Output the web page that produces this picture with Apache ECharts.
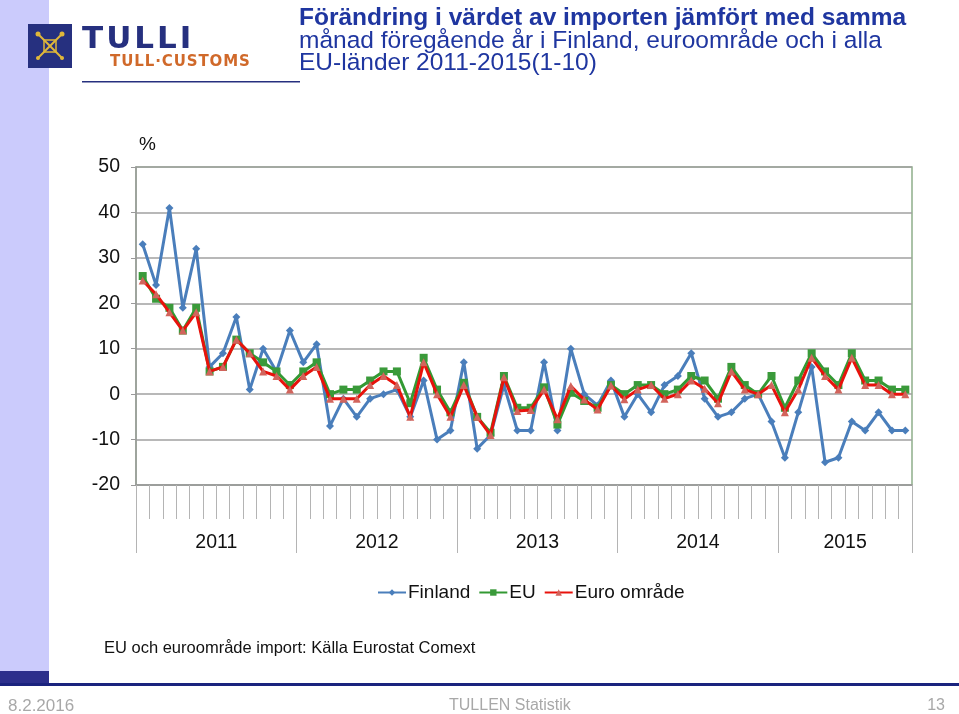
<!DOCTYPE html>
<html><head><meta charset="utf-8">
<script src="https://cdn.jsdelivr.net/npm/echarts@6/dist/echarts.min.js"></script>
<style>html,body{margin:0;padding:0;background:#fff;}#c{width:959px;height:714px;}</style>
</head><body><div id="c"></div>
<script>
// ---- data ----
const years = ['2011', '2012', '2013', '2014', '2015'];
const monthsPerYear = [12, 12, 12, 12, 10];
const seriesNames = ['Finland', 'EU', 'Euro område'];
const finland = [33, 24, 41, 19, 32, 6, 9, 17, 1, 10,
  5, 14, 7, 11, -7, -1, -5, -1, 0, 1,
  -5, 3, -10, -8, 7, -12, -9, 2, -8, -8,
  7, -8, 10, 0, -2.5, 3, -5, 0, -4, 2,
  4, 9, -1, -5, -4, -1, 0, -6, -14, -4,
  6, -15, -14, -6, -8, -4, -8, -8];
const eu = [26, 21, 19, 14, 19, 5, 6, 12, 9, 7,
  5, 2, 5, 7, 0, 1, 1, 3, 5, 5,
  -2, 8, 1, -4, 2.5, -5, -8.5, 4, -3, -3,
  1.5, -6.7, 0.3, -1.5, -3, 2, 0, 2, 2, 0,
  1, 4, 3, -1, 6, 2, 0, 4, -3, 3,
  9, 5, 2, 9, 3, 3, 1, 1];
const euroArea = [25, 22, 18, 14, 18, 5, 6, 12, 9, 5,
  4, 1, 4, 6, -1, -1, -1, 2, 4, 2,
  -5, 7, 0, -5, 2, -5, -9, 3.7, -3.7, -3.5,
  1, -5.5, 1.8, -1.2, -3.4, 1.9, -1.1, 1, 2, -1,
  0, 3, 1.2, -2, 5, 1, 0, 2, -4, 1,
  8, 4, 1, 8, 2, 2, 0, 0];
const yMin = -20, yMax = 50, yStep = 10;

// ---- derived ----
const categories = [];
years.forEach((y, i) => { for (let m = 1; m <= monthsPerYear[i]; m++) categories.push(y + '-' + String(m).padStart(2, '0')); });
const yearStarts = []; let acc = 0;
monthsPerYear.forEach(n => { yearStarts.push(acc); acc += n; }); yearStarts.push(acc);
const yearMids = years.map((y, i) => yearStarts[i] + monthsPerYear[i] / 2);

const FONT = 'Liberation Sans, Arial, sans-serif';
const chart = echarts.init(document.getElementById('c'), null, { renderer: 'canvas' });

function spaced(word, style) { return word.split('').map(ch => '{' + style + '|' + ch + '}').join(''); }

const option = {
  backgroundColor: '#fff',
  animation: false,
  title: [
    { text: '{b|Förändring i värdet av importen jämfört med samma}\n{n|månad föregående år i Finland, euroområde och i alla}\n{n|EU-länder 2011-2015(1-10)}',
      left: 299, top: 7, padding: 0,
      textStyle: { fontFamily: FONT, fontSize: 24.5, color: '#1f36a0', lineHeight: 22.5,
        rich: {
          b: { fontFamily: FONT, fontSize: 24.5, fontWeight: 'bold', color: '#1f36a0', lineHeight: 22.5 },
          n: { fontFamily: FONT, fontSize: 24.5, fontWeight: 'normal', color: '#1f36a0', lineHeight: 22.5 }
        } } },
    { text: 'EU och euroområde import: Källa Eurostat Comext', left: 104, top: 640, padding: 0,
      textStyle: { fontFamily: FONT, fontSize: 16.5, fontWeight: 'normal', color: '#111' } },
    { text: '8.2.2016', left: 8, top: 698, padding: 0, textStyle: { fontFamily: FONT, fontSize: 17, fontWeight: 'normal', color: '#a8a8a8' } },
    { text: 'TULLEN Statistik', left: 449, top: 698, padding: 0, textStyle: { fontFamily: FONT, fontSize: 16, fontWeight: 'normal', color: '#a8a8a8' } },
    { text: '13', right: 14, top: 698, padding: 0, textStyle: { fontFamily: FONT, fontSize: 16, fontWeight: 'normal', color: '#a8a8a8' } }
  ],
  graphic: [
    { type: 'rect', shape: { x: 0, y: 0, width: 49, height: 683 }, style: { fill: '#cbcbfc' }, z: -10 },
    { type: 'rect', shape: { x: 0, y: 671, width: 49, height: 12 }, style: { fill: '#2c2f8c' }, z: -9 },
    { type: 'rect', shape: { x: 0, y: 683, width: 959, height: 3 }, style: { fill: '#1a237e' }, z: -5 },
    { type: 'rect', shape: { x: 28, y: 24, width: 44, height: 44 }, style: { fill: '#26307f' } },
    { type: 'group', x: 50, y: 46, children: [
      { type: 'line', shape: { x1: -13, y1: -13, x2: 13, y2: 13 }, style: { stroke: '#e0b73a', lineWidth: 2 } },
      { type: 'line', shape: { x1: 13, y1: -13, x2: -13, y2: 13 }, style: { stroke: '#e0b73a', lineWidth: 2 } },
      { type: 'rect', shape: { x: -6, y: -6, width: 12, height: 12 }, style: { fill: 'none', stroke: '#e0b73a', lineWidth: 1.5 } },
      { type: 'circle', shape: { cx: -12, cy: -12, r: 2.5 }, style: { fill: '#e0b73a' } },
      { type: 'circle', shape: { cx: 12, cy: -12, r: 2.5 }, style: { fill: '#e0b73a' } },
      { type: 'circle', shape: { cx: -12, cy: 12, r: 2 }, style: { fill: '#e0b73a' } },
      { type: 'circle', shape: { cx: 12, cy: 12, r: 2 }, style: { fill: '#e0b73a' } }
    ] },
    { type: 'text', left: 82, top: 24, style: { text: spaced('TULLI', 't'), font: 'bold 31px DejaVu Sans', fill: '#26307f',
      rich: { t: { font: 'bold 31px DejaVu Sans', fill: '#26307f', padding: [0, 3, 0, 0] } } } },
    { type: 'text', left: 110, top: 55, style: { text: spaced('TULL·CUSTOMS', 'c'), font: 'bold 15px DejaVu Sans', fill: '#d0692a',
      rich: { c: { font: 'bold 15px DejaVu Sans', fill: '#d0692a', padding: [0, 0.9, 0, 0] } } } },
    { type: 'rect', shape: { x: 82, y: 81, width: 218, height: 1.5 }, style: { fill: '#26307f' } }
  ],
  legend: {
    data: seriesNames, left: 372, top: 578, itemWidth: 28, itemHeight: 8, itemGap: 8,
    textStyle: { fontFamily: FONT, fontSize: 19, color: '#111', padding: [0, 0, 0, -3] }
  },
  grid: { left: 136, right: 47, top: 167, bottom: 229, show: true, borderColor: '#8fae8a', borderWidth: 1.5 },
  xAxis: [
    { type: 'category', data: categories, boundaryGap: true,
      axisLine: { onZero: false, lineStyle: { color: '#9a9a9a', width: 1.5 } },
      axisTick: { show: true, interval: 0, length: 34, lineStyle: { color: '#b4b4b4' } },
      axisLabel: { show: false }, splitLine: { show: false } },
    { type: 'value', min: 0, max: categories.length, position: 'bottom',
      axisLine: { show: false, onZero: false },
      axisTick: { show: true, customValues: yearStarts, length: 68, lineStyle: { color: '#b4b4b4' } },
      axisLabel: { show: true, customValues: yearMids, margin: 48,
        formatter: v => { const i = yearMids.indexOf(v); return i >= 0 ? years[i] : ''; },
        fontFamily: FONT, fontSize: 19.5, color: '#111' },
      splitLine: { show: false } }
  ],
  yAxis: {
    type: 'value', min: yMin, max: yMax, interval: yStep,
    name: '%', nameLocation: 'end', nameGap: 13,
    nameTextStyle: { fontFamily: FONT, fontSize: 19, color: '#111', align: 'left', padding: [0, 0, 0, 3] },
    axisLine: { show: true, lineStyle: { color: '#9a9a9a', width: 1.5 } },
    axisTick: { show: true, length: 5, lineStyle: { color: '#9a9a9a' } },
    axisLabel: { fontFamily: FONT, fontSize: 19.5, color: '#111', margin: 16 },
    splitLine: { lineStyle: { color: '#a0a0a0', width: 1.5 } }
  },
  series: [
    { name: seriesNames[0], type: 'line', data: finland, symbol: 'diamond', symbolSize: 8,
      lineStyle: { color: '#4a7ebb', width: 3 }, itemStyle: { color: '#4a7ebb' }, z: 2 },
    { name: seriesNames[1], type: 'line', data: eu, symbol: 'rect', symbolSize: 8,
      lineStyle: { color: '#339933', width: 3 }, itemStyle: { color: '#3a9a3a' }, z: 3 },
    { name: seriesNames[2], type: 'line', data: euroArea, symbol: 'triangle', symbolSize: 8,
      lineStyle: { color: '#e8120c', width: 3 }, itemStyle: { color: '#d2645c' }, z: 4 }
  ]
};
chart.setOption(option);
</script></body></html>
